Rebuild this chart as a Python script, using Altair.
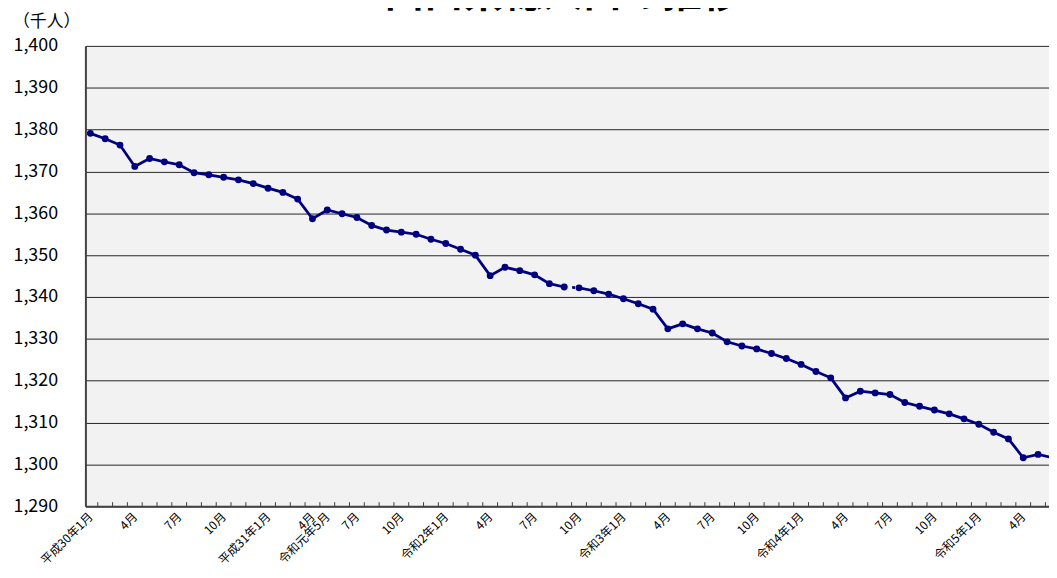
import altair as alt
import pandas as pd

# month index 0 = 平成30年1月 (2018-01) ... 65 = 令和5年6月 (2023-06)
population = [
    1379.1, 1377.8, 1376.3, 1371.2, 1373.1, 1372.3, 1371.6, 1369.7, 1369.2, 1368.6, 1368.0, 1367.1,  # 2018
    1366.0, 1365.0, 1363.4, 1358.7, 1360.8, 1359.9, 1359.0, 1357.1, 1356.0, 1355.5, 1355.0, 1353.8,  # 2019
    1352.8, 1351.4, 1350.0, 1345.1, 1347.1, 1346.3, 1345.3, 1343.2, 1342.4, 1342.2, 1341.5, 1340.7,  # 2020
    1339.6, 1338.4, 1337.1, 1332.4, 1333.6, 1332.4, 1331.4, 1329.3, 1328.3, 1327.6, 1326.5, 1325.3,  # 2021
    1323.9, 1322.2, 1320.7, 1315.9, 1317.5, 1317.1, 1316.7, 1314.8, 1313.9, 1313.0, 1312.1, 1310.9,  # 2022
    1309.6, 1307.7, 1306.1, 1301.6, 1302.4, 1301.6,                                                  # 2023
]
months = list(range(len(population)))
break_after = 32  # series break between 令和2年9月 and 10月

label_idx = [0, 3, 6, 9, 12, 15, 16, 18, 21, 24, 27, 30, 33, 36, 39, 42, 45, 48, 51, 54, 57, 60, 63]
label_txt = ["平成30年1月", "4月", "7月", "10月", "平成31年1月", "4月", "令和元年5月", "7月", "10月",
             "令和2年1月", "4月", "7月", "10月", "令和3年1月", "4月", "7月", "10月",
             "令和4年1月", "4月", "7月", "10月", "令和5年1月", "4月"]
y_ticks = list(range(1290, 1401, 10))

title_text = "山口県総人口の推移"
unit_text = "（千人）"

df = pd.DataFrame({
    "m": months,
    "pop": population,
    "seg": ["a" if m <= break_after else "b" for m in months],
})
gap_df = df[(df.m == break_after) | (df.m == break_after + 1)]
tick_df = pd.DataFrame({"m": [m + 0.5 for m in months[:-1]], "pop": 1290, "pop2": 1291})

lab_arr = [""] * len(months)
for i, t in zip(label_idx, label_txt):
    lab_arr[i] = t
label_expr = "[" + ",".join("'" + s + "'" for s in lab_arr) + "][datum.value]"

navy = "#000080"
xscale = alt.Scale(domain=[-0.335, 64.74], nice=False, zero=False)
yscale = alt.Scale(domain=[1290, 1400], nice=False, zero=False)

x_axis = alt.Axis(
    values=label_idx, labelExpr=label_expr, labelAngle=315, labelAlign="right",
    labelBaseline="middle", labelPadding=8, labelFontSize=12, labelColor="#000",
    labelOverlap=False, ticks=False, grid=False, domain=True, domainColor="#404040",
    domainWidth=2, title=None)
y_axis = alt.Axis(
    values=y_ticks, format=",.0f", labelFontSize=18, labelColor="#000", labelPadding=28,
    labelOverlap=False, ticks=False, grid=True, gridColor="#262626", gridWidth=1, domain=True,
    domainColor="#404040", domainWidth=2, title=None)


def X():
    return alt.X("m:Q", scale=xscale, axis=x_axis)


def Y():
    return alt.Y("pop:Q", scale=yscale, axis=y_axis)


line = alt.Chart(df).mark_line(color=navy, strokeWidth=2.8, clip=True).encode(
    x=X(), y=Y(), detail="seg:N")
gap = alt.Chart(gap_df).mark_line(color=navy, strokeWidth=2.8, strokeDash=[3, 5]).encode(
    x=X(), y=Y())
pts = alt.Chart(df).mark_point(filled=True, color=navy, size=48, opacity=1, clip=True).encode(
    x=X(), y=Y())
ticks = alt.Chart(tick_df).mark_rule(color="#404040", strokeWidth=1).encode(
    x=X(), y=Y(), y2="pop2:Q")

title = alt.Chart(pd.DataFrame({"t": [title_text]})).mark_text(
    fontSize=40, fontWeight="bold", color="#000", align="center", baseline="alphabetic").encode(
    text="t:N", x=alt.value(481), y=alt.value(-39))
unit = alt.Chart(pd.DataFrame({"t": [unit_text]})).mark_text(
    fontSize=17, color="#000", align="center", baseline="middle").encode(
    text="t:N", x=alt.value(-39), y=alt.value(-24))

chart = alt.layer(line, gap, pts, ticks, title, unit).properties(
    width=971, height=464,
    padding={"left": 78, "top": 36, "right": 0, "bottom": 62},
    autosize=alt.AutoSizeParams(type="none"),
).configure(font="Noto Sans CJK JP", background="#ffffff").configure_view(
    fill="#f2f2f2", strokeOpacity=0)

chart.save("out.html", embed_options={"renderer": "svg", "actions": False})
